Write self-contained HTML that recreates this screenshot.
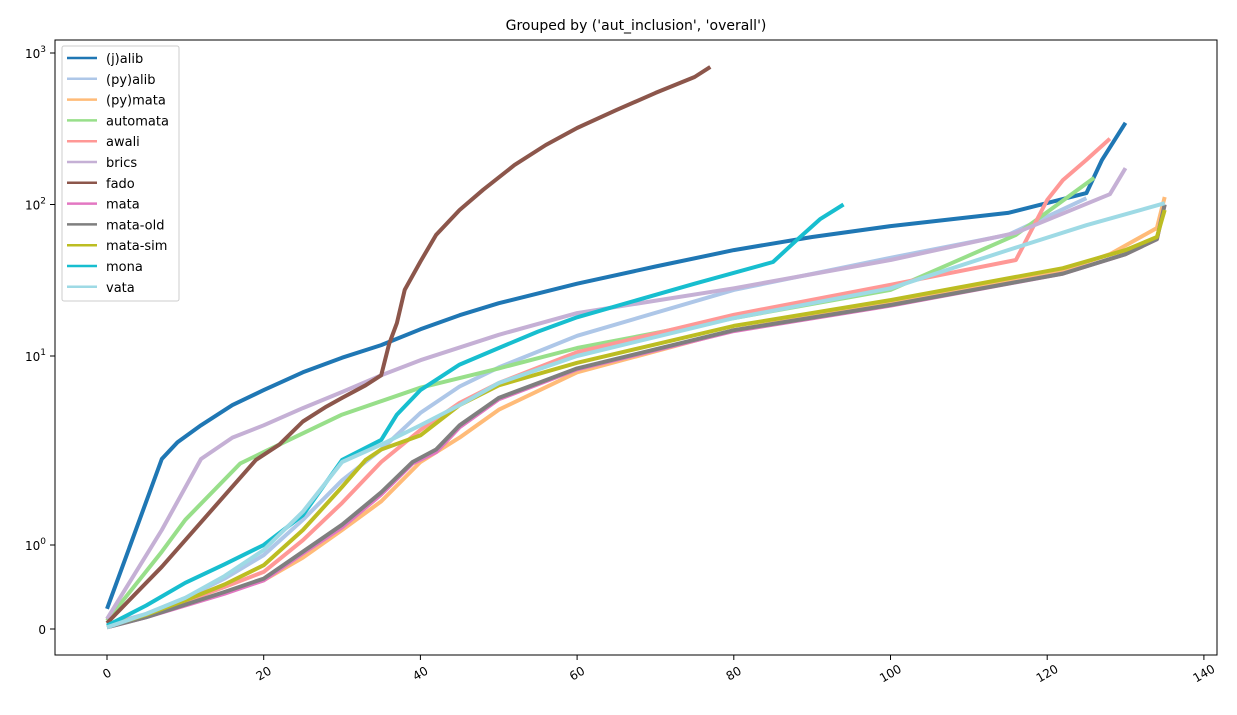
<!DOCTYPE html>
<html><head><meta charset="utf-8"><style>
body{margin:0;background:#fff}
svg{font-family:"DejaVu Sans","Liberation Sans",sans-serif}
</style></head><body>
<svg id="chart" width="1237" height="710" xmlns="http://www.w3.org/2000/svg">
<rect width="1237" height="710" fill="#fff"/>
<text x="636" y="30" text-anchor="middle" font-size="14">Grouped by ('aut_inclusion', 'overall')</text>
<g id="plot"></g>
<rect x="55" y="40" width="1162" height="615" fill="none" stroke="#000" stroke-width="1"/>
<g id="axes"></g>
<g id="legend"></g>
</svg>
<script>
const seriesNames = ["(j)alib","(py)alib","(py)mata","automata","awali","brics","fado","mata","mata-old","mata-sim","mona","vata"];
const seriesColors = ["#1f77b4","#aec7e8","#ffbb78","#98df8a","#ff9896","#c5b0d5","#8c564b","#e377c2","#7f7f7f","#bcbd22","#17becf","#9edae5"];
const xJalib=[0,7,9,12,16,20,25,30,35,40,45,50,60,70,80,90,100,115,125,127,130];
const yJalib=[0.24,2.85,3.5,4.3,5.5,6.6,8.2,9.8,11.8,15,18.6,22.3,30,39,50,61,72,88,119,197,346];
const xPyalib=[0,5,10,15,20,25,30,35,40,45,50,60,80,100,115,125];
const yPyalib=[0.05,0.18,0.37,0.6,0.88,1.36,2.2,3.2,5.0,6.9,8.7,13.6,27.3,44.5,63,110];
const xPymata=[0,5,10,15,20,25,30,35,40,45,50,60,80,100,122,128,134,135];
const yPymata=[0.03,0.15,0.3,0.43,0.58,0.85,1.2,1.7,2.75,3.7,5.2,8.2,14.8,22.4,37,47,70,112];
const xAutomata=[0,7,10,17,20,30,40,50,60,80,100,110,116,126];
const yAutomata=[0.1,0.92,1.36,2.7,3.1,4.9,6.8,8.6,11.3,17.8,27.3,46,63,150];
const xAwali=[0,5,10,15,20,25,30,35,40,45,50,60,80,100,116,120,122,125,128];
const yAwali=[0.04,0.17,0.33,0.5,0.68,1.06,1.67,2.75,4.06,5.65,7.2,10.6,18.7,29.5,43,107,145,197,272];
const xBrics=[0,7,12,16,20,25,30,35,40,50,60,80,100,116,128,130];
const yBrics=[0.12,1.2,2.85,3.7,4.3,5.3,6.45,7.9,9.5,13.8,19.2,28,43,65,117,174];
const xFado=[0,7,19,22,25,28,30,33,35,36,37,38,40,42,45,48,52,56,60,65,70,75,77];
const yFado=[0.07,0.74,2.82,3.4,4.5,5.4,6.0,7.0,7.9,12,16.5,27.3,42,63,92,125,182,247,320,420,545,694,810];
const xMata=[0,5,10,15,20,25,30,35,39,42,45,50,60,80,100,122,130,134,135];
const yMata=[0.02,0.14,0.28,0.42,0.58,0.9,1.24,1.85,2.7,3.1,4.2,5.9,8.5,14.6,21.5,35,47,59,100];
const xMataOld=[0,5,10,15,20,25,30,35,39,42,45,50,60,80,100,122,130,134,135];
const yMataOld=[0.02,0.14,0.29,0.44,0.6,0.92,1.28,1.9,2.75,3.2,4.3,6.0,8.6,14.8,21.7,35,47,59,100];
const xMataSim=[0,5,10,15,20,25,30,33,35,40,45,50,60,80,100,122,130,134,135];
const yMataSim=[0.03,0.17,0.34,0.53,0.76,1.2,2.03,2.82,3.2,3.8,5.5,7.0,9.2,15.8,23.4,38,50,61,92];
const xMona=[0,5,10,15,20,25,30,35,37,40,45,50,55,60,75,85,88,91,94];
const yMona=[0.04,0.28,0.55,0.77,1.0,1.44,2.82,3.6,4.9,6.6,9.0,11.3,14.5,18,30,41.7,58,80,100];
const xVata=[0,5,10,15,20,25,30,35,40,45,50,60,80,100,115,125,135];
const yVata=[0.02,0.18,0.37,0.63,0.94,1.5,2.75,3.4,4.3,5.5,7.2,10,17.8,28,50,73,102];
const seriesX=[xJalib,xPyalib,xPymata,xAutomata,xAwali,xBrics,xFado,xMata,xMataOld,xMataSim,xMona,xVata];
const seriesY=[yJalib,yPyalib,yPymata,yAutomata,yAwali,yBrics,yFado,yMata,yMataOld,yMataSim,yMona,yVata];
const xTicks=[0,20,40,60,80,100,120,140];
const yTicks=[0,1,10,100,1000];
const yTickLabels=["0","10<tspan dy='-6' font-size='9'>0</tspan>","10<tspan dy='-6' font-size='9'>1</tspan>","10<tspan dy='-6' font-size='9'>2</tspan>","10<tspan dy='-6' font-size='9'>3</tspan>"];

const NS="http://www.w3.org/2000/svg";
function xs(v){return 107+v*7.835;}
function ys(v){
  if(v<=1) return 629-84*v;
  const l=Math.log10(v);
  if(l<=1) return 545-189*l;
  return 356-151.5*(l-1);
}
const plot=document.getElementById('plot');
for(let i=0;i<seriesNames.length;i++){
  const p=document.createElementNS(NS,'polyline');
  p.setAttribute('points',seriesX[i].map((x,j)=>xs(x).toFixed(1)+','+ys(seriesY[i][j]).toFixed(1)).join(' '));
  p.setAttribute('fill','none');p.setAttribute('stroke',seriesColors[i]);
  p.setAttribute('stroke-width','4');p.setAttribute('stroke-linejoin','round');
  
  
  plot.appendChild(p);
}
const axes=document.getElementById('axes');
for(const t of xTicks){
  const x=xs(t);
  const l=document.createElementNS(NS,'line');
  l.setAttribute('x1',x);l.setAttribute('x2',x);l.setAttribute('y1',655);l.setAttribute('y2',660);l.setAttribute('stroke','#000');
  
  
  axes.appendChild(l);
  const tx=document.createElementNS(NS,'text');
  tx.setAttribute('transform','translate('+(x+2)+',677) rotate(-30)');
  tx.setAttribute('text-anchor','middle');tx.setAttribute('font-size','12');
  tx.textContent=t;
  
  
  axes.appendChild(tx);
}
yTicks.forEach((t,i)=>{
  const y=ys(t);
  const l=document.createElementNS(NS,'line');
  l.setAttribute('x1',50);l.setAttribute('x2',55);l.setAttribute('y1',y);l.setAttribute('y2',y);l.setAttribute('stroke','#000');
  
  
  axes.appendChild(l);
  const tx=document.createElementNS(NS,'text');
  tx.setAttribute('x',46);tx.setAttribute('y',y+5);tx.setAttribute('text-anchor','end');tx.setAttribute('font-size','12');
  tx.innerHTML=yTickLabels[i];
  
  
  axes.appendChild(tx);
});
const lg=document.getElementById('legend');
const box=document.createElementNS(NS,'rect');
box.setAttribute('x',62);box.setAttribute('y',46);box.setAttribute('width',117);box.setAttribute('height',255);
box.setAttribute('rx',2);box.setAttribute('fill','#fff');box.setAttribute('fill-opacity','0.8');box.setAttribute('stroke','#ccc');


lg.appendChild(box);
seriesNames.forEach((n,i)=>{
  const y=58+i*20.8;
  const l=document.createElementNS(NS,'line');
  l.setAttribute('x1',67);l.setAttribute('x2',97);l.setAttribute('y1',y);l.setAttribute('y2',y);
  l.setAttribute('stroke',seriesColors[i]);l.setAttribute('stroke-width','2.5');
  
  
  lg.appendChild(l);
  const tx=document.createElementNS(NS,'text');
  tx.setAttribute('x',106);tx.setAttribute('y',y+5);tx.setAttribute('font-size','13');
  tx.textContent=n;
  
  
  lg.appendChild(tx);
});
</script>
</body></html>
